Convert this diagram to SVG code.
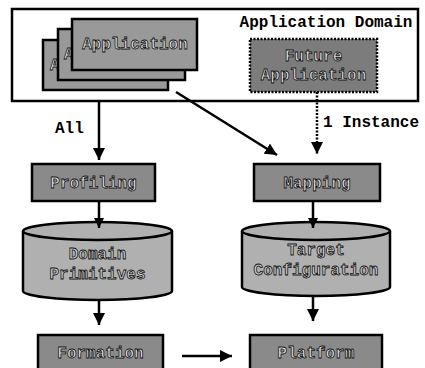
<svg xmlns="http://www.w3.org/2000/svg" width="425" height="368" viewBox="0 0 425 368">
  <defs>
    <marker id="arrow" viewBox="0 0 10 10" refX="10" refY="5" markerWidth="10" markerHeight="10" markerUnits="userSpaceOnUse" orient="auto">
      <path d="M0,0 L10,5 L0,10 Z" fill="#000"/>
    </marker>
    <marker id="arrowL" viewBox="0 0 10 10" refX="10" refY="5" markerWidth="12" markerHeight="12" markerUnits="userSpaceOnUse" orient="auto">
      <path d="M0,0 L10,5 L0,10 Z" fill="#000"/>
    </marker>
  </defs>
  <style>
    text { font-family: "Liberation Mono", "Courier New", monospace; font-weight: bold; font-size: 16px; }
    .plain { fill: #000; }
    .lbl { fill: #e4e4e4; stroke: #111; stroke-width: 0.8; text-anchor: middle; }
    .lbls { fill: #e4e4e4; stroke: #111; stroke-width: 0.8; }
    .lblc { fill: #cfcfcf; stroke: #111; stroke-width: 0.8; text-anchor: middle; }
    .box { fill: #8a8a8a; stroke: #000; stroke-width: 2.5; }
    .card { fill: #999; stroke: #000; stroke-width: 2.5; }
    .cyl { fill: #b0b0b0; stroke: #000; stroke-width: 2.5; }
    .edge { fill: none; stroke: #000; stroke-width: 2.5; }
  </style>

  <!-- application domain frame -->
  <g id="domain">
    <rect x="12" y="9" width="406" height="92" fill="#fff" stroke="#000" stroke-width="2.5"/>
    <text class="plain" x="326" y="27" text-anchor="middle">Application Domain</text>
  </g>

  <!-- stacked application cards; only the first letter of the rear labels shows -->
  <g id="applications">
    <rect class="card" x="43" y="40" width="125" height="50"/>
    <text class="lbls" x="50" y="70">A</text>
    <rect class="card" x="58" y="29" width="127" height="51"/>
    <text class="lbls" x="64" y="59">A</text>
    <rect class="card" x="72" y="19" width="125" height="51"/>
    <text class="lbl" x="135" y="49">Application</text>
  </g>

  <g id="future">
    <rect x="250" y="39" width="127" height="53" fill="#7c7c7c" stroke="#000" stroke-width="2.5" stroke-dasharray="2,1.5"/>
    <text class="lbl" x="313.5" y="61">Future</text>
    <text class="lbl" x="313.5" y="80">Application</text>
  </g>

  <g id="profiling">
    <rect class="box" x="32" y="164" width="123" height="37"/>
    <text class="lbl" x="93.5" y="188">Profiling</text>
  </g>

  <g id="mapping">
    <rect class="box" x="254" y="164" width="126" height="37"/>
    <text class="lbl" x="317" y="188">Mapping</text>
  </g>

  <g id="primitives">
    <path class="cyl" d="M23,231 A74.5,9 0 0 1 172,231 L172,291 A74.5,9 0 0 1 23,291 Z"/>
    <path d="M23,231 A74.5,9 0 0 0 172,231" fill="none" stroke="#000" stroke-width="2.5"/>
    <text class="lblc" x="97.5" y="259">Domain</text>
    <text class="lblc" x="97.5" y="279">Primitives</text>
  </g>

  <g id="target">
    <path class="cyl" d="M242,231 A74,9 0 0 1 390,231 L390,287 A74,9 0 0 1 242,287 Z"/>
    <path d="M242,231 A74,9 0 0 0 390,231" fill="none" stroke="#000" stroke-width="2.5"/>
    <text class="lblc" x="316" y="255">Target</text>
    <text class="lblc" x="316" y="275">Configuration</text>
  </g>

  <g id="formation">
    <rect class="box" x="38" y="335" width="125" height="40"/>
    <text class="lbl" x="100.5" y="358">Formation</text>
  </g>

  <g id="platform">
    <rect class="box" x="250" y="335" width="132" height="40"/>
    <text class="lbl" x="316" y="358">Platform</text>
  </g>

  <!-- connectors -->
  <g id="connectors">
    <line class="edge" x1="99" y1="101" x2="99" y2="160" marker-end="url(#arrowL)"/>
    <text class="plain" x="55" y="133">All</text>
    <line class="edge" x1="176" y1="92" x2="277" y2="155" marker-end="url(#arrowL)"/>
    <line class="edge" x1="317" y1="92" x2="317" y2="154" stroke-dasharray="2,1.5" marker-end="url(#arrowL)"/>
    <text class="plain" x="323" y="127">1 Instance</text>
    <line class="edge" x1="99" y1="201" x2="99" y2="228" marker-end="url(#arrow)"/>
    <line class="edge" x1="313" y1="201" x2="313" y2="228" marker-end="url(#arrow)"/>
    <line class="edge" x1="99" y1="300" x2="99" y2="325" marker-end="url(#arrowL)"/>
    <line class="edge" x1="313" y1="296" x2="313" y2="321" marker-end="url(#arrowL)"/>
    <line class="edge" x1="182" y1="356" x2="232" y2="356" marker-end="url(#arrowL)"/>
  </g>
</svg>
